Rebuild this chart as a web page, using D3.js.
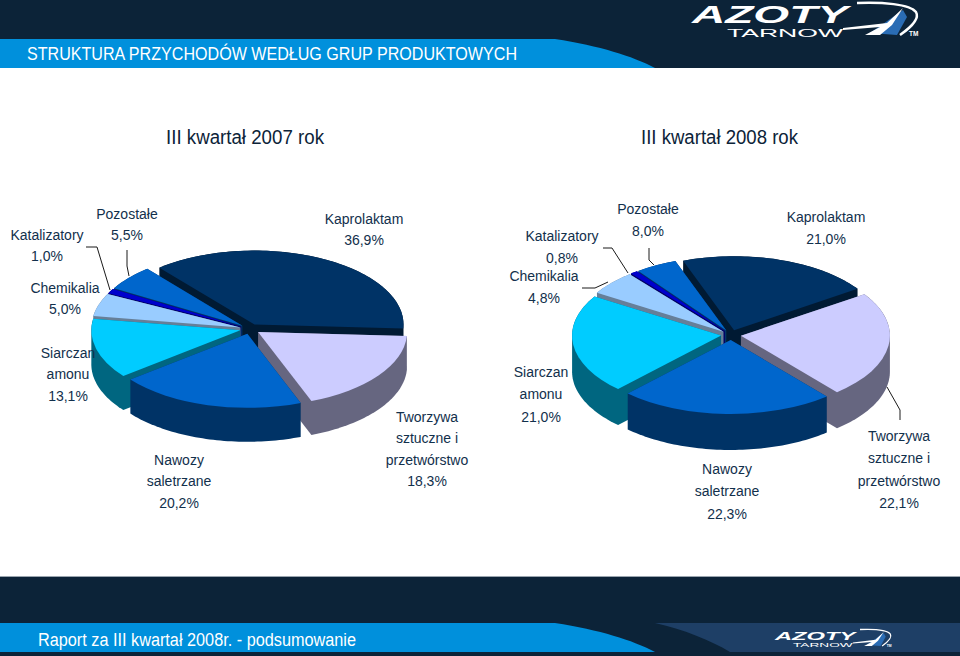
<!DOCTYPE html>
<html><head><meta charset="utf-8">
<script src="https://cdnjs.cloudflare.com/ajax/libs/d3/7.8.5/d3.min.js"></script>
<style>html,body{margin:0;padding:0;background:#fff}svg{display:block}text{font-family:"Liberation Sans",Arial,sans-serif}</style>
</head><body><svg id="c" width="960" height="656"></svg>
<script>
// ---- data ----
const categories = ["Kaprolaktam","Tworzywa sztuczne i przetwórstwo","Nawozy saletrzane","Siarczan amonu","Chemikalia","Katalizatory","Pozostałe"];
const values2007 = [36.9,18.3,20.2,13.1,5.0,1.0,5.5];
const values2008 = [21.0,22.1,22.3,21.0,4.8,0.8,8.0];
// The 2008 pie in the picture is not drawn in proportion to its printed labels
// (Pozostałe is about half its label); these are the shares.
const drawnShares2008 = [21.1,23.3,23.3,21.7,5.3,0.8,4.5];
const labelLines = [["Kaprolaktam"],["Tworzywa","sztuczne i","przetwórstwo"],["Nawozy","saletrzane"],["Siarczan","amonu"],["Chemikalia"],["Katalizatory"],["Pozostałe"]];
const chartTitles = ["III kwartał 2007 rok","III kwartał 2008 rok"];
const headerTitle = "STRUKTURA PRZYCHODÓW WEDŁUG GRUP PRODUKTOWYCH";
const footerTitle = "Raport  za III kwartał 2008r. - podsumowanie";
// ---- style / layout ----
const topColors  = ["#003366","#ccccff","#0066cc","#00ccff","#99ccff","#0000cc","#0066cc"];
const sideColors = ["#001a33","#666680","#003366","#006680","#667f99","#000066","#003366"];
const navy="#0c2338", blue="#0090dc", textColor="#12304c";
const pies = [
 {values:values2007,shares:values2007,cx:250,cy:329,rx:149,ry:74,depth:34,start:-39.7,explode:10,
  anchors:[[364,219],[427,417],[179,460],[68,353],[65,288],[47,235],[127,214]],lh:21.5,
  leaders:[[[86,247],[97,247],[110,290]],[[127,250],[127,266],[129,276]]]},
 {values:values2008,shares:drawnShares2008,cx:731,cy:335,rx:149,ry:74,depth:36,start:-20,explode:10,
  anchors:[[826,217],[899,436],[727,469],[541,372],[544,276],[562,236],[648,209]],lh:22.3,
  leaders:[[[603,248],[612,248],[628,273]],[[649,248],[649,260],[654,265]],[[582,288],[595,288],[608,282]],[[887,387],[900,410],[900,420]]]}
];
const titleSpots=[{x:166,w:158,y:144},{x:641,w:157,y:144}];

const svg=d3.select("#c");
// frame
svg.append("rect").attr("width",960).attr("height",68).attr("fill",navy);
svg.append("path").attr("fill",blue).attr("d","M0,39H555C600,46 632,56 655,68H0Z");
svg.append("text").attr("x",27).attr("y",60).attr("font-size",18.5).attr("fill","#fff").attr("textLength",490).attr("lengthAdjust","spacingAndGlyphs").text(headerTitle);
svg.append("rect").attr("y",576).attr("width",960).attr("height",80).attr("fill",navy);
svg.append("rect").attr("y",576).attr("width",960).attr("height",1).attr("fill","#9aa5af");
svg.append("path").attr("fill","#1e3f66").attr("d","M655,623H960V652H730C710,640 685,630 655,623Z");
svg.append("path").attr("fill",blue).attr("d","M0,623H555C600,630 632,640 655,652H0Z");
svg.append("text").attr("x",38).attr("y",646).attr("font-size",18).attr("fill","#fff").attr("textLength",318).attr("lengthAdjust","spacingAndGlyphs").text(footerTitle);

function logo(x,y,k){
 const g=svg.append("g").attr("transform",`translate(${x},${y}) scale(${k})`);
 g.append("text").attr("x",0).attr("y",20.5).attr("font-size",23).attr("font-weight","bold").attr("font-style","italic").attr("fill","#fff").attr("textLength",156).attr("lengthAdjust","spacingAndGlyphs").text("AZOTY");
 g.append("text").attr("x",35).attr("y",35).attr("font-size",10.5).attr("fill","#fff").attr("textLength",116).attr("lengthAdjust","spacingAndGlyphs").text("TARNOW");
 g.append("path").attr("fill","#2a6cb4").attr("d","M178,31L211,8L215,15L205,33Z");
 g.append("path").attr("fill","none").attr("stroke","#fff").attr("stroke-width",2.5).attr("d","M165,1C190,0 218,2 224,10C228,17 218,26 208,33");
 g.append("path").attr("fill","#fff").attr("d","M151,26L195,21L211,6L200,23L188,33L173,33L188,25L151,28Z");
 g.append("text").attr("x",217).attr("y",34).attr("font-size",6.5).attr("font-weight","bold").attr("fill","#fff").text("TM");
}
logo(692,2,1);
logo(775,629,0.515);

chartTitles.forEach((t,i)=>svg.append("text").attr("x",titleSpots[i].x).attr("y",titleSpots[i].y).attr("font-size",19.5).attr("fill",navy).attr("textLength",titleSpots[i].w).attr("lengthAdjust","spacingAndGlyphs").text(t));

const fmt=v=>d3.format(".1f")(v).replace(".",",")+"%";

pies.forEach(p=>{
 const a0=p.start*Math.PI/180;
 const arcs=d3.pie().sort(null).startAngle(a0).endAngle(a0+2*Math.PI).value(d=>d)(p.shares);
 const ratio=p.ry/p.rx;
 const arc=d3.arc().innerRadius(0).outerRadius(p.rx);
 const items=arcs.map((d,i)=>{
  const m=(d.startAngle+d.endAngle)/2;
  return {d,i,ox:p.cx+Math.sin(m)*p.explode,oy:p.cy-Math.cos(m)*p.explode*ratio,m};
 }).sort((a,b)=>a.oy-b.oy);
 const g=svg.append("g");
 items.forEach(it=>{
  const {d,i,ox,oy}=it;
  const n=Math.max(4,Math.ceil((d.endAngle-d.startAngle)*40));
  const angle=d3.scaleLinear().domain([0,n]).range([d.startAngle,d.endAngle]);
  const outline=[[ox,oy]].concat(d3.range(n+1).map(k=>[ox+Math.sin(angle(k))*p.rx,oy-Math.cos(angle(k))*p.ry]));
  const hull=d3.polygonHull(outline.concat(outline.map(q=>[q[0],q[1]+p.depth])));
  g.append("path").attr("d","M"+hull.join("L")+"Z").attr("fill",sideColors[i]);
  g.append("path").attr("d",arc(d)).attr("fill",topColors[i]).attr("transform",`translate(${ox},${oy}) scale(1,${ratio})`);
 });
 const line=d3.line();
 p.leaders.forEach(l=>svg.append("path").attr("d",line(l)).attr("fill","none").attr("stroke","#1a1a1a").attr("stroke-width",1));
 p.anchors.forEach((a,i)=>{
  labelLines[i].concat([fmt(p.values[i])]).forEach((s,j)=>{
   svg.append("text").attr("x",a[0]).attr("y",a[1]+j*p.lh).attr("dy","0.35em").attr("text-anchor","middle").attr("font-size",14).attr("fill",textColor).text(s);
  });
 });
});
</script></body></html>
